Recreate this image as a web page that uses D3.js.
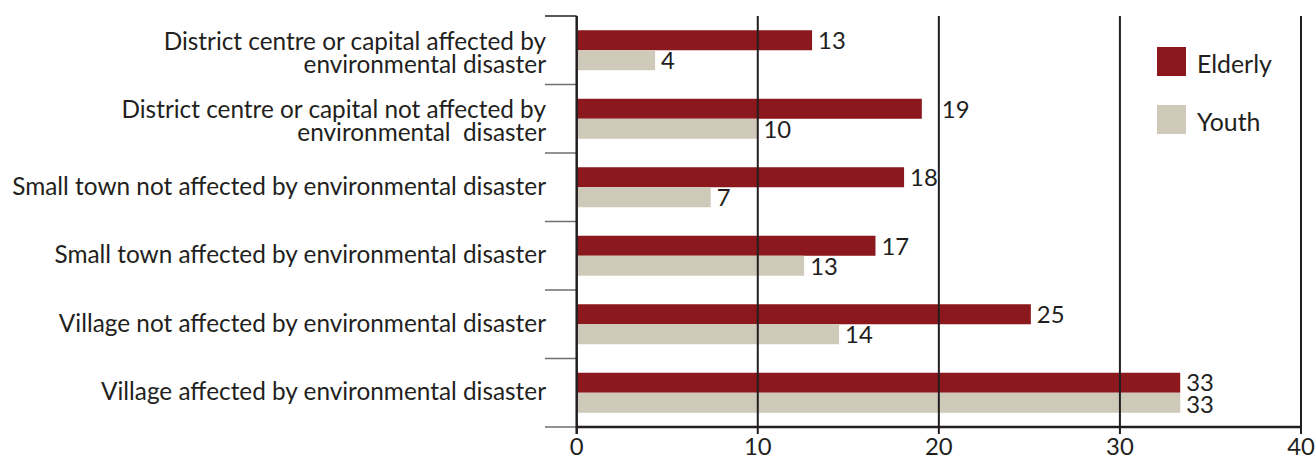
<!DOCTYPE html>
<html><head><meta charset="utf-8">
<script src="https://cdn.jsdelivr.net/npm/d3@7"></script>
<style>
html,body{margin:0;padding:0;background:#fff;}
svg{display:block;}
text{font-family:Lato,"Open Sans","Noto Sans",sans-serif;fill:#231f20;}
</style></head>
<body>
<svg id="chart" width="1316" height="458"></svg>
<script>
const categories = [
  ["District centre or capital affected by", "environmental disaster"],
  ["District centre or capital not affected by", "environmental  disaster"],
  ["Small town not affected by environmental disaster"],
  ["Small town affected by environmental disaster"],
  ["Village not affected by environmental disaster"],
  ["Village affected by environmental disaster"]
];
const seriesNames = ["Elderly", "Youth"];
const elderlyValues = [13.0, 19.06, 18.08, 16.5, 25.08, 33.33];
const youthValues   = [4.33, 9.98, 7.4, 12.56, 14.49, 33.33];
const elderlyLabels = ["13", "19", "18", "17", "25", "33"];
const youthLabels   = ["4", "10", "7", "13", "14", "33"];
const xTicks = [0, 10, 20, 30, 40];
const colors = {Elderly: "#8b181d", Youth: "#cfc9b9"};

(function () {
const svg = d3.select("#chart");
const ink = "#231f20";
const pL = 576.7, pR = 1301, pT = 16, pB = 427;
const x = d3.scaleLinear().domain([0, 40]).range([pL, pR]);
const keys = categories.map((c, i) => "c" + i);
const y = d3.scaleBand().domain(keys).range([pT, pB]).padding(0);
const bw = y.bandwidth();
const barH = 20;
const sub = d3.scaleBand().domain(seriesNames).range([(bw - 2 * barH) / 2, (bw + 2 * barH) / 2]).padding(0);

const probe = svg.append("text").attr("font-size", 20).text(categories[2][0]);
const w20 = probe.node().getComputedTextLength();
probe.remove();
const catSize = 20 * 534 / w20;
const numSize = catSize * 0.98;
const legSize = catSize * 1.02;

const rows = categories.map((c, i) => ({key: keys[i], vals: [
  {s: "Elderly", v: elderlyValues[i], lab: elderlyLabels[i]},
  {s: "Youth", v: youthValues[i], lab: youthLabels[i]}
]}));
const g = svg.append("g");
rows.forEach(r => {
  r.vals.forEach(d => {
    g.append("rect")
      .attr("x", x(0)).attr("y", y(r.key) + sub(d.s))
      .attr("width", x(d.v) - x(0)).attr("height", sub.bandwidth())
      .attr("fill", colors[d.s]);
  });
});

xTicks.filter(t => t > 0).forEach(t => {
  svg.append("line").attr("x1", x(t)).attr("x2", x(t)).attr("y1", pT).attr("y2", pB + 7)
    .attr("stroke", ink).attr("stroke-width", 2);
});

y.domain().concat(["end"]).forEach((k, i) => {
  const yy = k === "end" ? pB : y(k);
  svg.append("line").attr("x1", 545).attr("x2", pL).attr("y1", yy).attr("y2", yy)
    .attr("stroke", i === 0 ? ink : "#6d6e71").attr("stroke-width", 1.5);
});
svg.append("line").attr("x1", pL).attr("x2", pL).attr("y1", pT).attr("y2", pB + 7)
  .attr("stroke", ink).attr("stroke-width", 2.5);
svg.append("line").attr("x1", pL).attr("x2", pR + 1).attr("y1", pB).attr("y2", pB)
  .attr("stroke", ink).attr("stroke-width", 2.5);

xTicks.forEach(t => {
  svg.append("text").attr("x", x(t)).attr("y", 455).attr("text-anchor", "middle")
    .attr("font-size", numSize).text(t);
});

const grid = xTicks.map(t => x(t));
rows.forEach(r => {
  r.vals.forEach(d => {
    const end = x(d.v);
    let lx = end + 6;
    grid.forEach(gx => { if (gx > end + 1 && gx < end + 22) lx = gx + 3; });
    const dy = (r.vals[0].v > 30 && r.vals[1].v > 30) ? (d.s === "Elderly" ? -2 : 0) : -1;
    svg.append("text").attr("x", lx).attr("y", y(r.key) + sub(d.s) + sub.bandwidth() + dy)
      .attr("font-size", numSize).text(d.lab);
  });
});

categories.forEach((lines, i) => {
  const cy = y(keys[i]) + bw / 2;
  const lh = 23;
  const extra = lines.length > 1 ? 3.5 : 0;
  const t = svg.append("text").attr("text-anchor", "end").attr("font-size", catSize)
    .style("white-space", "pre");
  lines.forEach((ln, j) => {
    t.append("tspan").attr("x", 546)
      .attr("y", cy + 7.5 + extra + (j - (lines.length - 1) / 2) * lh).text(ln);
  });
});

seriesNames.forEach((s, i) => {
  const ly = 47 + i * 58;
  svg.append("rect").attr("x", 1157).attr("y", ly).attr("width", 29).attr("height", 29).attr("fill", colors[s]);
  svg.append("text").attr("x", 1197).attr("y", ly + 26).attr("font-size", legSize).text(s);
});
})();
</script>
</body></html>
